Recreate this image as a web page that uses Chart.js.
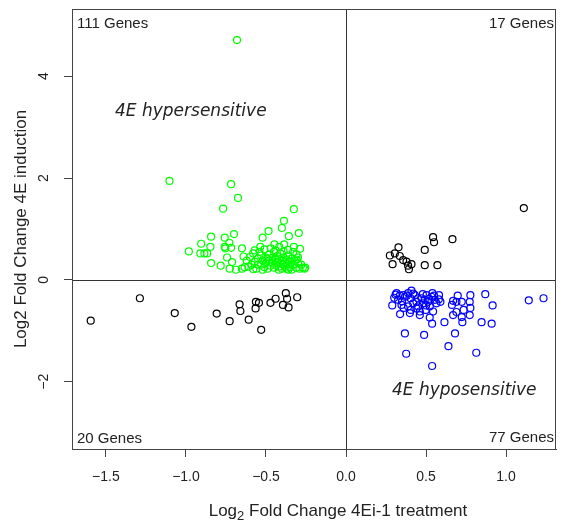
<!DOCTYPE html>
<html>
<head>
<meta charset="utf-8">
<script src="https://cdn.jsdelivr.net/npm/chart.js@4.4.1/dist/chart.umd.min.js"></script>
<style>
  html, body { margin: 0; padding: 0; background: #fff; }
</style>
</head>
<body>
<canvas id="foldChart" width="563" height="521"></canvas>
<script>
// Top-left quadrant: 4E hypersensitive genes (green)
const hyperGenes = [
  [-0.681, 4.71], [-1.103, 1.945], [-0.718, 1.88], [-0.675, 1.61], [-0.768, 1.40],
  [-0.326, 1.39], [-0.388, 1.16], [-0.401, 1.02], [-0.484, 0.96], [-0.295, 0.92],
  [-0.357, 0.86], [-0.521, 0.83], [-0.700, 0.90], [-0.843, 0.85], [-0.758, 0.83],
  [-0.905, 0.71], [-0.847, 0.65], [-0.982, 0.56], [-0.910, 0.52], [-0.885, 0.52],
  [-0.868, 0.52], [-0.758, 0.65], [-0.754, 0.62], [-0.718, 0.63], [-0.729, 0.73],
  [-0.650, 0.62], [-0.447, 0.70], [-0.417, 0.65], [-0.386, 0.70], [-0.363, 0.59],
  [-0.326, 0.65], [-0.287, 0.61], [-0.310, 0.50], [-0.536, 0.65], [-0.843, 0.33],
  [-0.783, 0.28], [-0.743, 0.44], [-0.712, 0.35], [-0.727, 0.22], [-0.687, 0.20],
  [-0.650, 0.22], [-0.633, 0.25], [-0.640, 0.46],
  [-0.62, 0.38], [-0.60, 0.45], [-0.59, 0.30], [-0.58, 0.52], [-0.57, 0.36],
  [-0.56, 0.22], [-0.55, 0.42], [-0.54, 0.55], [-0.53, 0.30], [-0.53, 0.48],
  [-0.52, 0.38], [-0.51, 0.25], [-0.51, 0.60], [-0.50, 0.44], [-0.50, 0.33],
  [-0.49, 0.22], [-0.48, 0.50], [-0.48, 0.38], [-0.47, 0.28], [-0.46, 0.44],
  [-0.46, 0.34], [-0.45, 0.55], [-0.45, 0.24], [-0.44, 0.40], [-0.44, 0.30],
  [-0.43, 0.47], [-0.43, 0.36], [-0.42, 0.26], [-0.42, 0.42], [-0.41, 0.32],
  [-0.41, 0.52], [-0.40, 0.38], [-0.40, 0.22], [-0.39, 0.44], [-0.39, 0.30],
  [-0.38, 0.35], [-0.38, 0.26], [-0.37, 0.40], [-0.37, 0.22], [-0.36, 0.31],
  [-0.36, 0.48], [-0.35, 0.36], [-0.35, 0.25], [-0.34, 0.42], [-0.34, 0.20],
  [-0.33, 0.30], [-0.33, 0.55], [-0.32, 0.38], [-0.31, 0.24], [-0.30, 0.33],
  [-0.30, 0.44], [-0.29, 0.22], [-0.28, 0.30], [-0.27, 0.24], [-0.26, 0.22],
  [-0.255, 0.24], [-0.61, 0.26], [-0.57, 0.58], [-0.47, 0.62], [-0.44, 0.58],
  [-0.52, 0.20], [-0.39, 0.56], [-0.58, 0.21], [-0.31, 0.40], [-0.55, 0.30],
  [-0.49, 0.42], [-0.42, 0.20], [-0.36, 0.20]
];

// Top-right quadrant (black)
const upBoth = [
  [1.111, 1.41], [0.544, 0.84], [0.550, 0.74], [0.665, 0.80], [0.492, 0.59],
  [0.328, 0.64], [0.274, 0.48], [0.305, 0.52], [0.336, 0.47], [0.357, 0.39],
  [0.378, 0.36], [0.409, 0.31], [0.388, 0.28], [0.393, 0.21], [0.291, 0.31],
  [0.492, 0.29], [0.571, 0.29]
];

// Bottom-left quadrant (black)
const downBoth = [
  [-1.595, -0.80], [-1.288, -0.36], [-1.070, -0.65], [-0.966, -0.92], [-0.808, -0.66],
  [-0.727, -0.81], [-0.665, -0.48], [-0.660, -0.61], [-0.608, -0.78], [-0.563, -0.43],
  [-0.544, -0.45], [-0.565, -0.56], [-0.530, -0.98], [-0.472, -0.45], [-0.440, -0.37],
  [-0.394, -0.49], [-0.376, -0.26], [-0.368, -0.37], [-0.359, -0.54], [-0.305, -0.34]
];

// Bottom-right quadrant: 4E hyposensitive genes (blue)
const hypoGenes = [
  [1.234, -0.36], [1.142, -0.40], [0.870, -0.28], [0.916, -0.50], [0.847, -0.83],
  [0.910, -0.86], [0.814, -1.43], [0.777, -0.30], [0.773, -0.43], [0.777, -0.55],
  [0.773, -0.69], [0.735, -0.59], [0.723, -0.73], [0.727, -0.83], [0.698, -0.31],
  [0.690, -0.43], [0.723, -0.43], [0.669, -0.41], [0.662, -0.49], [0.690, -0.63],
  [0.669, -0.69], [0.681, -1.05], [0.615, -0.83], [0.640, -1.30], [0.538, -1.69],
  [0.488, -1.08], [0.368, -1.05], [0.376, -1.45], [0.338, -0.67], [0.289, -0.50],
  [0.301, -0.35], [0.316, -0.26], [0.336, -0.31], [0.357, -0.30], [0.347, -0.49],
  [0.388, -0.26], [0.409, -0.21], [0.403, -0.36], [0.388, -0.52], [0.399, -0.65],
  [0.430, -0.30], [0.440, -0.43], [0.461, -0.62], [0.461, -0.69], [0.472, -0.36],
  [0.482, -0.46], [0.503, -0.30], [0.513, -0.43], [0.523, -0.52], [0.540, -0.26],
  [0.555, -0.39], [0.544, -0.62], [0.523, -0.74], [0.538, -0.86], [0.581, -0.30],
  [0.590, -0.43], [0.565, -0.46], [0.326, -0.39], [0.420, -0.46], [0.451, -0.52],
  [0.498, -0.59], [0.405, -0.59], [0.368, -0.33], [0.492, -0.39], [0.534, -0.33],
  [0.31, -0.29], [0.35, -0.42], [0.38, -0.31], [0.42, -0.27], [0.45, -0.36],
  [0.48, -0.28], [0.50, -0.50], [0.52, -0.37], [0.55, -0.31], [0.58, -0.38],
  [0.44, -0.56], [0.36, -0.55]
];

const xTickValues = [-1.5, -1.0, -0.5, 0.0, 0.5, 1.0];
const xTickLabels = ['\u22121.5', '\u22121.0', '\u22120.5', '0.0', '0.5', '1.0'];
const yTickValues = [-2, 0, 2, 4];
const yTickLabels = ['\u22122', '0', '2', '4'];
const quadrantCounts = ['111 Genes', '17 Genes', '20 Genes', '77 Genes'];
const regionNames = ['4E hypersensitive', '4E hyposensitive'];

const sansFont = '"Liberation Sans", Arial, sans-serif';

function toPoints(list) {
    return list.map(p => ({ x: p[0], y: p[1] }));
}

function pointSet(label, list, color) {
    return {
        label: label,
        data: toPoints(list),
        pointStyle: 'circle',
        pointRadius: 3.5,
        pointHoverRadius: 3.5,
        borderWidth: 1.2,
        borderColor: color,
        backgroundColor: 'rgba(0,0,0,0)'
    };
}

// Zero lines, frame and all the text R would put around the plot
const plotDecor = {
    id: 'plotDecor',
    beforeDatasetsDraw(chart) {
        const { ctx, chartArea: a, scales } = chart;
        const x0 = Math.round(scales.x.getPixelForValue(0)) + 0.5;
        const y0 = Math.round(scales.y.getPixelForValue(0)) + 0.5;
        ctx.save();
        ctx.strokeStyle = '#333';
        ctx.lineWidth = 1;
        ctx.beginPath();
        ctx.moveTo(x0, a.top);
        ctx.lineTo(x0, a.bottom);
        ctx.moveTo(a.left, y0);
        ctx.lineTo(a.right, y0);
        ctx.stroke();
        ctx.restore();
    },
    afterDraw(chart) {
        const { ctx, chartArea: a, scales } = chart;
        ctx.save();

        // box
        ctx.strokeStyle = '#444';
        ctx.lineWidth = 1;
        ctx.strokeRect(Math.round(a.left) + 0.5, Math.round(a.top) + 0.5,
            Math.round(a.right - a.left) - 1, Math.round(a.bottom - a.top));

        ctx.fillStyle = '#222';

        // x tick labels
        ctx.font = '14px ' + sansFont;
        ctx.textAlign = 'center';
        ctx.textBaseline = 'middle';
        xTickValues.forEach((v, i) => {
            ctx.fillText(xTickLabels[i], scales.x.getPixelForValue(v), 477);
        });

        // y tick labels, rotated like R's las = 0
        yTickValues.forEach((v, i) => {
            ctx.save();
            ctx.translate(44, scales.y.getPixelForValue(v));
            ctx.rotate(-Math.PI / 2);
            ctx.fillText(yTickLabels[i], 0, 0);
            ctx.restore();
        });

        // x title with subscript 2
        ctx.font = '17px ' + sansFont;
        ctx.textBaseline = 'alphabetic';
        ctx.textAlign = 'left';
        const part1 = 'Log';
        const part2 = '2';
        const part3 = ' Fold Change 4Ei-1 treatment';
        const w1 = ctx.measureText(part1).width;
        const w3 = ctx.measureText(part3).width;
        ctx.font = '13px ' + sansFont;
        const w2 = ctx.measureText(part2).width;
        const total = w1 + w2 + w3;
        let tx = 338 - total / 2;
        const base = 516;
        ctx.font = '17px ' + sansFont;
        ctx.fillText(part1, tx, base);
        ctx.font = '13px ' + sansFont;
        ctx.fillText(part2, tx + w1, base + 4);
        ctx.font = '17px ' + sansFont;
        ctx.fillText(part3, tx + w1 + w2, base);

        // y title
        ctx.save();
        ctx.translate(21, (a.top + a.bottom) / 2);
        ctx.rotate(-Math.PI / 2);
        ctx.textAlign = 'center';
        ctx.textBaseline = 'middle';
        ctx.fillText('Log2 Fold Change 4E induction', 0, 0);
        ctx.restore();

        // gene counts in the corners
        ctx.font = '15px ' + sansFont;
        ctx.textBaseline = 'middle';
        ctx.textAlign = 'left';
        ctx.fillText(quadrantCounts[0], 77, 23.5);
        ctx.fillText(quadrantCounts[2], 77, 439);
        ctx.textAlign = 'right';
        ctx.fillText(quadrantCounts[1], 554, 23.5);
        ctx.fillText(quadrantCounts[3], 554, 438);

        // region names
        ctx.font = 'italic 17px "DejaVu Sans", sans-serif';
        ctx.textAlign = 'left';
        ctx.textBaseline = 'alphabetic';
        ctx.fillText(regionNames[0], 115, 115.5);
        ctx.fillText(regionNames[1], 392, 395);

        ctx.restore();
    }
};

new Chart(document.getElementById('foldChart'), {
    type: 'scatter',
    data: {
        datasets: [
            pointSet('hypersensitive', hyperGenes, '#00ff00'),
            pointSet('up both', upBoth, '#000000'),
            pointSet('down both', downBoth, '#000000'),
            pointSet('hyposensitive', hypoGenes, '#0000ff')
        ]
    },
    options: {
        responsive: false,
        animation: false,
        layout: { padding: { top: 9, right: 7, left: 0, bottom: 0 } },
        plugins: {
            legend: { display: false },
            tooltip: { enabled: false }
        },
        scales: {
            x: {
                type: 'linear',
                min: -1.712,
                max: 1.312,
                afterFit: s => { s.height = 72; },
                ticks: { display: false, stepSize: 0.5, includeBounds: false },
                grid: { drawOnChartArea: false, drawTicks: true, tickLength: 8, tickColor: '#444' },
                border: { display: true, color: '#444' }
            },
            y: {
                type: 'linear',
                min: -3.32,
                max: 5.32,
                afterFit: s => { s.width = 72; },
                ticks: { display: false, stepSize: 2, includeBounds: false },
                grid: { drawOnChartArea: false, drawTicks: true, tickLength: 8, tickColor: '#444' },
                border: { display: true, color: '#444' }
            }
        }
    },
    plugins: [plotDecor]
});
</script>
</body>
</html>
